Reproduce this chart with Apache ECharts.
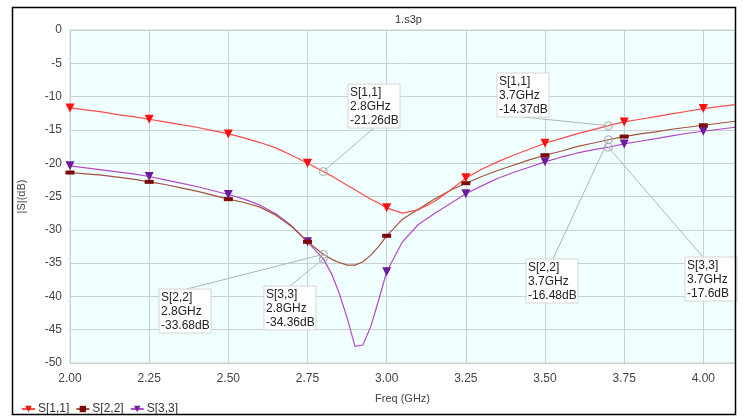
<!DOCTYPE html>
<html><head><meta charset="utf-8">
<script src="https://cdn.jsdelivr.net/npm/echarts@6/dist/echarts.min.js"></script>
<style>html,body{margin:0;padding:0;background:#fff}#c{width:745px;height:416px}</style>
</head><body><div id="c"></div>
<script>
const freq = [2.00,2.05,2.10,2.15,2.20,2.25,2.30,2.35,2.40,2.45,2.50,2.55,2.60,2.65,2.70,2.75,2.80,2.825,2.85,2.875,2.90,2.925,2.95,2.975,3.00,3.05,3.10,3.15,3.20,3.25,3.30,3.35,3.40,3.45,3.50,3.55,3.60,3.65,3.70,3.75,3.80,3.85,3.90,3.95,4.00,4.05,4.10];
const s11 = [-11.7,-12.0,-12.3,-12.7,-13.0,-13.4,-13.8,-14.2,-14.6,-15.1,-15.6,-16.2,-16.9,-17.7,-18.8,-20.0,-21.26,-21.9,-22.6,-23.3,-24.0,-24.7,-25.4,-26.0,-26.7,-27.5,-27.0,-25.8,-24.1,-22.2,-20.9,-19.8,-18.8,-17.9,-17.0,-16.3,-15.6,-15.0,-14.37,-13.8,-13.4,-13.0,-12.6,-12.2,-11.8,-11.5,-11.2];
const s22 = [-21.4,-21.6,-21.8,-22.1,-22.4,-22.8,-23.2,-23.7,-24.2,-24.8,-25.4,-25.9,-26.6,-27.8,-29.5,-31.8,-33.68,-34.4,-34.9,-35.3,-35.3,-34.8,-33.8,-32.5,-30.9,-28.4,-26.9,-25.4,-24.1,-23.0,-22.0,-21.1,-20.3,-19.5,-18.8,-18.2,-17.5,-17.0,-16.48,-16.0,-15.6,-15.3,-14.9,-14.6,-14.3,-14.0,-13.7];
const s33 = [-20.4,-20.7,-21.0,-21.3,-21.6,-22.0,-22.5,-23.0,-23.5,-24.1,-24.7,-25.4,-26.3,-27.6,-29.4,-31.8,-34.36,-36.5,-39.5,-43.2,-47.5,-47.3,-44.5,-40.5,-36.3,-31.8,-29.2,-27.6,-26.1,-24.6,-23.4,-22.3,-21.4,-20.6,-19.8,-19.1,-18.5,-18.0,-17.6,-17.1,-16.7,-16.3,-15.9,-15.5,-15.2,-14.9,-14.6];
const seriesNames = ['S[1,1]','S[2,2]','S[3,3]'];
const titleText = '1.s3p';
const xName = 'Freq (GHz)';
const yName = '|S|(dB)';
// marker annotations: series index, frequency (GHz), value (dB)
const markerSeries = [0, 0, 1, 2, 1, 2];
const markerFreq = [2.8, 3.7, 2.8, 2.8, 3.7, 3.7];
const markerDb = [-21.26, -14.37, -33.68, -34.36, -16.48, -17.6];
// layout of annotation boxes (pixels): box left/top, and leader anchor offset within box
const boxLayout = [
  {x:348,y:84,ax:27,ay:43},
  {x:497,y:73,ax:26,ay:44},
  {x:159,y:289,ax:28,ay:0},
  {x:264,y:286,ax:26,ay:0},
  {x:526,y:259,ax:27,ay:0},
  {x:685,y:257,ax:18,ay:0}
];

function isTick(f){ return Math.abs(f*4 - Math.round(f*4)) < 1e-6 && f <= 4.0001; }
function build(vals, sym){
  return freq.map((f,i)=>({value:[f, vals[i]], symbol: isTick(f) ? sym : 'none'}));
}
const chart = echarts.init(document.getElementById('c'), null, {renderer:'canvas'});
const font = 'Liberation Sans';
const option = {
  animation:false,
  backgroundColor:'#ffffff',
  title:{text:titleText, left:390, top:9, textStyle:{fontSize:11, fontWeight:'normal', color:'#333', fontFamily:font}},
  grid:{left:70, right:10, top:30, bottom:53, show:true, backgroundColor:'#f0ffff', borderColor:'#c8d0d0', borderWidth:1},
  legend:{left:16, top:398, itemGap:6, itemWidth:13, itemHeight:8, textStyle:{fontSize:12, color:'#333', fontFamily:font, padding:[0,0,0,-2]}, data:seriesNames},
  xAxis:{type:'value', min:2, max:4.1, interval:0.25, name:xName, nameLocation:'middle', nameGap:30,
    nameTextStyle:{fontSize:11, color:'#444', fontFamily:font},
    axisLine:{show:false}, axisTick:{show:false},
    axisLabel:{fontSize:12, color:'#444', fontFamily:font, margin:10, showMaxLabel:false,
      formatter:v=> isTick(v) ? v.toFixed(2) : ''},
    splitLine:{show:true, lineStyle:{color:'#c8d0d0', width:1}}},
  yAxis:{type:'value', min:-50, max:0, interval:5, name:yName, nameLocation:'middle', nameGap:43, nameRotate:90,
    nameTextStyle:{fontSize:11, color:'#444', fontFamily:font},
    axisLine:{show:false}, axisTick:{show:false},
    axisLabel:{fontSize:12, color:'#444', fontFamily:font, margin:8},
    splitLine:{show:true, lineStyle:{color:'#c8d0d0', width:1}}},
  series:[
    {name:seriesNames[0], type:'line', data:build(s11,'triangle'), symbol:'triangle', symbolRotate:180, symbolSize:9,
      lineStyle:{color:'#ff4a4a', width:1.2}, itemStyle:{color:'#ff1010'}, z:4},
    {name:seriesNames[1], type:'line', data:build(s22,'rect'), symbol:'rect', symbolSize:[9,4],
      lineStyle:{color:'#a3523f', width:1.2}, itemStyle:{color:'#7a0a0a'}, z:3},
    {name:seriesNames[2], type:'line', data:build(s33,'triangle'), symbol:'triangle', symbolRotate:180, symbolSize:9,
      lineStyle:{color:'#b04ac8', width:1.2}, itemStyle:{color:'#6e1a9e'}, z:2}
  ]
};
chart.setOption(option);

const graphics = [];
markerFreq.forEach((f,i)=>{
  const p = chart.convertToPixel({gridIndex:0}, [f, markerDb[i]]);
  const b = boxLayout[i];
  graphics.push({type:'line', z:20, silent:true, shape:{x1:p[0], y1:p[1], x2:b.x+b.ax, y2:b.y+b.ay}, style:{stroke:'#b4b4b4', lineWidth:1}});
  graphics.push({type:'circle', z:21, silent:true, shape:{cx:p[0], cy:p[1], r:4}, style:{fill:'rgba(255,255,255,0)', stroke:'#a8a8a8', lineWidth:1}});
  const txt = seriesNames[markerSeries[i]] + '\n' + f + 'GHz\n' + markerDb[i] + 'dB';
  graphics.push({type:'rect', z:22, silent:true, shape:{x:b.x, y:b.y, width:52, height:44}, style:{fill:'#ffffff', stroke:'#d4d4d4', lineWidth:1}});
  graphics.push({type:'text', z:23, silent:true, x:b.x+2, y:b.y+2, style:{text:txt, font:'12px "Liberation Sans"', fill:'#222', lineHeight:14}});
});
graphics.push({type:'rect', z:30, silent:true, shape:{x:12.5, y:7.5, width:723, height:407}, style:{fill:'none', stroke:'#000', lineWidth:1.5}});
chart.setOption({graphic:graphics});
</script>
</body></html>
